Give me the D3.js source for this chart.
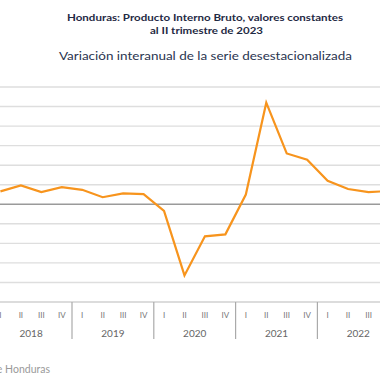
<!DOCTYPE html>
<html>
<head>
<meta charset="utf-8">
<script src="https://cdn.jsdelivr.net/npm/d3@7"></script>
<style>
  html, body { margin: 0; padding: 0; background: #fff; }
  svg { display: block; }
</style>
</head>
<body>
<svg id="chart" width="380" height="380"></svg>
<script>
// ---- data ----
const years = ["2018", "2019", "2020", "2021", "2022", "2023"];
const quarterNames = ["I", "II", "III", "IV"];
const quarters = [
  "2018-I","2018-II","2018-III","2018-IV",
  "2019-I","2019-II","2019-III","2019-IV",
  "2020-I","2020-II","2020-III","2020-IV",
  "2021-I","2021-II","2021-III","2021-IV",
  "2022-I","2022-II","2022-III","2022-IV",
  "2023-I","2023-II"
];
const growth = [
  3.3, 4.8, 3.1, 4.4,
  3.7, 1.8, 2.8, 2.6,
  -1.7, -18.2, -8.2, -7.7,
  2.5, 26.0, 13.0, 11.4,
  6.0, 3.9, 3.1, 3.4,
  3.0, 3.6
];
const yTicks = [-20, -15, -10, -5, 0, 5, 10, 15, 20, 25, 30];
const titleLines = ["Honduras: Producto Interno Bruto, valores constantes", "al II trimestre de 2023"];
const subtitle = "Variación interanual de la serie desestacionalizada";
const sourceText = "Fuente: Banco Central de Honduras";

// ---- drawing ----
const svg = d3.select("#chart");
const step = 20.45;
const x0 = -9.8;
const x = d3.scaleBand().domain(quarters).range([x0, x0 + step * quarters.length]).padding(0);
const y = d3.scaleLinear().domain([-25, 30]).range([302, 87]);
const cx = q => x(q) + x.bandwidth() / 2;

// titles
const titleFont = "Lato, 'Open Sans', sans-serif";
svg.append("text").attr("x", 205).attr("y", 20.5).attr("text-anchor", "middle")
  .attr("font-family", titleFont).attr("font-weight", "bold").attr("font-size", 10)
  .attr("fill", "#1f2a44").attr("textLength", 276).attr("lengthAdjust", "spacingAndGlyphs")
  .text(titleLines[0]);
svg.append("text").attr("x", 206.5).attr("y", 34).attr("text-anchor", "middle")
  .attr("font-family", titleFont).attr("font-weight", "bold").attr("font-size", 10)
  .attr("fill", "#1f2a44").attr("textLength", 113).attr("lengthAdjust", "spacingAndGlyphs")
  .text(titleLines[1]);
svg.append("text").attr("x", 205.5).attr("y", 59.5).attr("text-anchor", "middle")
  .attr("font-family", titleFont).attr("font-size", 12)
  .attr("fill", "#2a3550").attr("textLength", 293).attr("lengthAdjust", "spacingAndGlyphs")
  .text(subtitle);

// gridlines
const gridX0 = -10, gridX1 = 440;
svg.append("g").selectAll("line").data(yTicks.filter(d => d !== 0)).join("line")
  .attr("x1", gridX0).attr("x2", gridX1)
  .attr("y1", d => y(d)).attr("y2", d => y(d))
  .attr("stroke", "#dedede").attr("stroke-width", 1.4);

// bottom axis line
svg.append("line").attr("x1", gridX0).attr("x2", gridX1)
  .attr("y1", y(-25)).attr("y2", y(-25))
  .attr("stroke", "#d0d0d0").attr("stroke-width", 1.4);

// zero line
svg.append("line").attr("x1", gridX0).attr("x2", gridX1)
  .attr("y1", y(0)).attr("y2", y(0))
  .attr("stroke", "#9a9a9a").attr("stroke-width", 1.4);

// data line
const line = d3.line().x((d, i) => cx(quarters[i])).y(d => y(d));
svg.append("path").datum(growth)
  .attr("d", line)
  .attr("fill", "none")
  .attr("stroke", "#f7941d")
  .attr("stroke-width", 2.2)
  .attr("stroke-linejoin", "miter");

// x axis: quarter labels
const axisFont = "Lato, 'Open Sans', sans-serif";
svg.append("g").selectAll("text").data(quarters).join("text")
  .attr("x", d => cx(d))
  .attr("y", 318)
  .attr("text-anchor", "middle")
  .attr("font-family", axisFont)
  .attr("font-size", 8)
  .attr("fill", "#777")
  .text(d => d.split("-")[1]);

// year separators
svg.append("g").selectAll("line").data(years).join("line")
  .attr("x1", d => x(d + "-I")).attr("x2", d => x(d + "-I"))
  .attr("y1", 302).attr("y2", 339)
  .attr("stroke", "#aaa").attr("stroke-width", 1.2);

// year labels
svg.append("g").selectAll("text").data(years).join("text")
  .attr("x", d => {
    const qs = quarters.filter(q => q.startsWith(d));
    const first = x(qs[0]);
    const last = x(qs[qs.length - 1]) + x.bandwidth();
    return (first + last) / 2;
  })
  .attr("y", 337)
  .attr("text-anchor", "middle")
  .attr("font-family", axisFont)
  .attr("font-size", 10)
  .attr("fill", "#666")
  .text(d => d);

// source
svg.append("text").attr("x", 50).attr("y", 373).attr("text-anchor", "end")
  .attr("font-family", axisFont).attr("font-size", 10.5).attr("fill", "#9a9a9a")
  .text(sourceText);
</script>
</body>
</html>
